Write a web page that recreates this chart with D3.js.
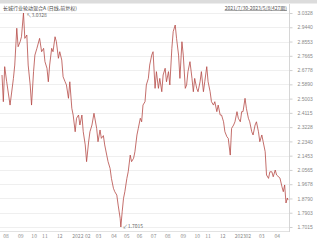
<!DOCTYPE html>
<html>
<head>
<meta charset="utf-8">
<script src="https://cdn.jsdelivr.net/npm/d3@7"></script>
<style>
  body { margin: 0; background: #fff; }
  svg { display: block; font-family: "Noto Sans CJK SC", "Noto Sans", sans-serif; }
</style>
</head>
<body>
<div id="chart"></div>
<script>
// period index (trading day) and adjusted NAV
const periods = [0,2,4,7,12,17,19,22,24,27,29,32,34,37,39,42,44,47,49,52,56,59,62,64,67,69,71,74,76,79,81,84,86,89,91,94,96,99,101,104,106,109,111,114,116,119,121,124,126,129,131,134,137,141,143,146,148,151,153,156,158,161,163,166,168,171,173,176,177,179,181,183,186,188,191,193,196,198,201,203,206,208,210,213,215,218,220,223,225,228,230,233,235,238,240,243,245,248,250,253,255,258,260,263,265,268,270,273,275,277,280,283,285,287,290,292,295,297,300,302,305,307,310,312,315,317,320,322,325,327,330,332,335,337,340,342,345,347,350,352,355,357,359,362,364,367,369,372,374,377,379,382,384,387,389,392,394,397,399,402,404,407,409,414,417,419,421,423,425,426]
const nav = [2.647,2.481,2.699,2.605,2.460,2.626,2.709,2.938,2.823,2.854,2.885,3.0328,2.875,2.896,2.709,2.585,2.460,2.668,2.771,2.813,2.875,2.792,2.813,2.730,2.689,2.605,2.709,2.813,2.792,2.885,2.854,2.751,2.792,2.740,2.636,2.605,2.585,2.502,2.605,2.440,2.398,2.294,2.378,2.398,2.336,2.398,2.294,2.212,2.108,2.230,2.294,2.336,2.409,2.315,2.232,2.305,2.253,2.270,2.212,2.149,2.108,2.066,2.004,1.942,1.921,1.900,1.838,1.755,1.7015,1.796,1.880,1.921,2.004,2.045,2.149,2.108,2.129,2.170,2.274,2.315,2.378,2.356,2.460,2.481,2.585,2.626,2.709,2.771,2.792,2.564,2.668,2.564,2.626,2.543,2.647,2.689,2.605,2.668,2.585,2.813,2.917,2.958,2.875,2.771,2.626,2.854,2.771,2.564,2.585,2.668,2.730,2.626,2.543,2.626,2.564,2.543,2.605,2.668,2.543,2.605,2.699,2.605,2.543,2.481,2.460,2.481,2.419,2.460,2.398,2.398,2.356,2.294,2.263,2.253,2.149,2.315,2.336,2.356,2.419,2.378,2.356,2.419,2.419,2.502,2.440,2.378,2.356,2.294,2.274,2.336,2.356,2.294,2.232,2.274,2.232,2.170,2.025,2.004,2.045,2.045,2.014,2.056,2.025,2.006,1.952,1.921,1.963,1.851,1.882,1.869]

const monthTicks = [1,23,43,59,81,104,123,139,162,181,200,221,242,265,286,302,324,346,362,382,405]
const monthLabels = ['08','09','10','11','12','2022','02','03','04','05','06','07','08','09','10','11','12','2023','02','03','04']

const yTicks = ['3.0328','2.9440','2.8553','2.7665','2.6778','2.5890','2.5003','2.4115','2.3228','2.2340','2.1453','2.0565','1.9678','1.8790','1.7903','1.7015']

const title = '长城行业轮动混合A (日线,前复权)'
const rangeText = '2021/7/30-2023/5/8(427期)'

const width = 317, height = 240
const svg = d3.select('#chart').append('svg')
  .attr('width', width)
  .attr('height', height)

// grey strip on top
svg.append('rect')
  .attr('x', 0).attr('y', 0)
  .attr('width', width).attr('height', 3.5)
  .attr('fill', '#dcdcdc')

const x = d3.scaleLinear().domain([0, 426]).range([2, 288])
const y = d3.scaleLinear().domain([1.7015, 3.0328]).range([227, 13])

// horizontal grid
svg.append('g')
  .selectAll('line')
  .data(yTicks)
  .enter()
  .append('line')
  .attr('x1', 0).attr('x2', 289)
  .attr('y1', d => Math.round(y(+d)) + 0.5)
  .attr('y2', d => Math.round(y(+d)) + 0.5)
  .attr('stroke', '#efefef')
  .attr('stroke-width', 1)

// right axis
const yAxis = d3.axisRight(y)
  .tickValues(yTicks.map(Number))
  .tickFormat((d, i) => yTicks[i])
  .tickSize(3)
  .tickPadding(5)
const gy = svg.append('g')
  .attr('transform', 'translate(289.5,0)')
  .call(yAxis)
gy.select('.domain').attr('stroke', '#d6d6d6').attr('d', 'M0,4V232')
gy.selectAll('.tick line').attr('stroke', '#cfcfcf')
gy.selectAll('.tick text')
  .attr('fill', '#8a8a8a')
  .style('font-size', '5px')

// bottom axis
svg.append('line')
  .attr('x1', 0).attr('x2', 289)
  .attr('y1', 231.5).attr('y2', 231.5)
  .attr('stroke', '#e2e2e2')

svg.append('g')
  .selectAll('text')
  .data(monthTicks)
  .enter()
  .append('text')
  .attr('x', d => x(d) + 0.5)
  .attr('y', 238)
  .attr('fill', '#8a8a8a')
  .style('font-size', '5px')
  .text((d, i) => monthLabels[i])

// line
const points = periods.map((p, i) => [p, nav[i]])
const line = d3.line()
  .x(d => x(d[0]))
  .y(d => y(d[1]))
svg.append('path')
  .datum(points)
  .attr('d', line)
  .attr('fill', 'none')
  .attr('stroke', '#b54a46')
  .attr('stroke-width', 0.8)
  .attr('stroke-linejoin', 'round')

// max / min labels
const iMax = d3.maxIndex(nav), iMin = d3.minIndex(nav)
svg.append('text')
  .attr('x', x(periods[iMax]) + 3)
  .attr('y', y(nav[iMax]) + 3.5)
  .attr('fill', '#666')
  .style('font-size', '5px')
  .text('↖' + yTicks[0])
svg.append('text')
  .attr('x', x(periods[iMin]) + 2)
  .attr('y', y(nav[iMin]) + 1)
  .attr('fill', '#666')
  .style('font-size', '5px')
  .text('↙' + yTicks[yTicks.length - 1])

// header texts
svg.append('text')
  .attr('x', 3).attr('y', 9.5)
  .attr('fill', '#444')
  .style('font-size', '5px')
  .text(title)
svg.append('text')
  .attr('x', 287).attr('y', 9.5)
  .attr('text-anchor', 'end')
  .attr('fill', '#555')
  .attr('text-decoration', 'underline')
  .style('font-size', '5px')
  .text(rangeText)
</script>
</body>
</html>
